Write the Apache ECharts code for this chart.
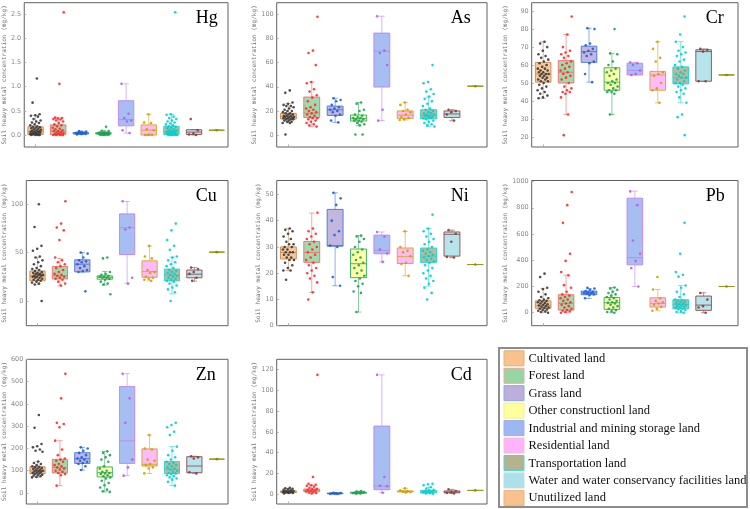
<!DOCTYPE html>
<html><head><meta charset="utf-8">
<script src="https://cdn.jsdelivr.net/npm/echarts@6/dist/echarts.min.js"></script>
<style>html,body{margin:0;padding:0;background:#fff}#c{width:750px;height:509px}</style>
</head><body><div id="c"></div>
<script>
// ---------- categories ----------
const LAND = ['Cultivated land','Forest land','Grass land','Other constructionl land','Industrial and mining storage land','Residential land','Transportation land','Water and water conservancy facilities land','Unutilized land'];
const METALS = ['Hg','As','Cr','Cu','Ni','Pb','Zn','Cd'];

// ---------- box stats [min, Q1, median, Q3, max] and points, per land use ----------
const hgBox = [[0,0.01,0.07,0.17,0.41],[0,0.01,0.08,0.21,0.36],[0.01,0.02,0.04,0.05,0.08],[0,0.02,0.03,0.05,0.09],[0.04,0.19,0.32,0.71,1.06],[0,0,0.1,0.21,0.43],[0,0.01,0.07,0.18,0.43],[0,0.01,0.06,0.11,0.11],[0.1,0.1,0.1,0.1,0.1]];
const hgPts = [
 [1.17,0.67,0.43,0.41,0.40,0.38,0.33,0.30,0.28,0.26,0.25,0.22,0.20,0.18,0.17,0.16,0.15,0.14,0.13,0.12,0.11,0.10,0.09,0.08,0.07,0.07,0.06,0.05,0.05,0.04,0.03,0.03,0.02,0.02,0.01,0.01,0,0,0,0],
 [2.54,1.06,0.36,0.35,0.34,0.33,0.32,0.30,0.28,0.25,0.22,0.20,0.18,0.15,0.13,0.12,0.10,0.08,0.08,0.06,0.05,0.04,0.03,0.02,0.01,0.01,0,0,0,0],
 [0.08,0.07,0.06,0.05,0.05,0.04,0.04,0.03,0.03,0.02,0.02,0.01],
 [0.17,0.09,0.08,0.06,0.05,0.05,0.04,0.04,0.03,0.03,0.03,0.02,0.02,0.02,0.01,0.01,0,0,0,0],
 [1.06,0.44,0.35,0.30,0.28,0.10,0.04],
 [0.43,0.26,0.25,0.12,0.10,0.01,0,0,0],
 [2.54,0.43,0.42,0.38,0.35,0.33,0.30,0.28,0.26,0.24,0.22,0.20,0.18,0.17,0.15,0.14,0.12,0.11,0.10,0.09,0.08,0.07,0.06,0.05,0.05,0.04,0.03,0.02,0.02,0.01,0.01,0,0,0,0,0],
 [0.33,0.10,0.03,0.01,0],
 [0.1]];

const asBox = [[10,13.3,15.5,18,26],[7,14.4,18.2,31.5,44],[10.5,16.3,21,24,30.5],[7.7,11.6,13.8,16.6,27],[12,39.8,69.5,84.5,98.5],[12.5,13.8,16.5,20,27],[7,13.5,16.3,21,31.5],[11.8,14.6,17.5,20,21],[40.5,40.5,40.5,40.5,40.5]];
const asPts = [
 [37,35,27,26,25,24,24,23,22,21,20,20,19,18,18,17,17,16,16,16,15,15,15,14,14,14,13,13,13,12,12,11,11,10,10,0.5],
 [98,70,68,58,44,43,38,36,33,31,28,25,23,22,21,20,19,18,17,16,15,14,14,13,12,11,10,9,8,7],
 [30.5,29,28,25,23,22,21,20,19,17,16,12,10.5],
 [27,26,21,20,17,16,15,14,14,13,13,12,12,11,10,9,8,0.5,0.5],
 [98.5,70,68,58,21,12],
 [27,25,21,20,19,17,15,14,13,12.5],
 [58,44,43,38,36,34,32,30,28,26,24,22,21,20,19,18,18,17,17,16,16,15,15,14,14,13,12,11,10,9,8,7],
 [21,20,19,17,12],
 [40.5]];

const crBox = [[41.5,50.5,55,61.5,73],[32.5,50,56,62.5,77],[50.5,61.5,67.5,70.5,80.5],[32.5,46,50.5,58.5,66.5],[54.5,54.5,57,61,61.5],[39,46,54.5,56.5,73],[39,49.5,53,59,73],[51,51,67.5,68.5,69],[54.5,54.5,54.5,54.5,54.5]];
const crPts = [
 [73,72,70,68,66,65,64,63,62,61,60,59,58,58,57,57,56,56,55,55,55,54,54,53,53,52,52,51,51,50,49,48,47,46,45,44,43,42,41.5],
 [87,77,70,68,67,66,65,64,62,61,60,59,58,57,56,55,54,53,52,50,48,47,46,45,45,44,42,32.5,21],
 [80.5,80,72,71,69,68,67,66,65,62,61,55,50.5],
 [80,66.5,66,62,60,58,57,56,55,54,52,51,50,50,49,48,47,46,46,45,45,44,32.5],
 [61.5,61,60,57,55,54.5],
 [73,69,64,62,56,55,54,50,47,46,39],
 [87,77,73,70,68,67,66,65,63,62,60,59,58,57,56,55,55,54,53,53,52,51,50,50,49,48,47,46,45,44,42,39,32.5,31,21],
 [69,68.5,67.5,51,51],
 [54.5]];

const cuBox = [[17,21,26,31,45],[15.6,22.8,26,35.6,44],[30,30.1,38,42.6,50],[16.5,22.5,24.5,26,30.5],[18.3,48,75.8,90,102.8],[20.8,24.5,30.4,41.5,56.7],[7.3,20.8,26.6,33,45.3],[20.5,24,27.7,32,34.5],[50.5,50.5,50.5,50.5,50.5]];
const cuPts = [
 [100,76.5,57,54,52,46,45,42,40,38,36,34,33,32,31,30,29,29,28,28,27,27,26,26,25,25,24,24,23,22,22,21,20,19,18,17,0],
 [103,80,76,73,63,45,42,40,38,36,34,32,30,28,27,26,25,24,23,22,20,18,16],
 [50,49,45,42,41,40,38,36,34,32,31,30,10],
 [45,44,30,28,27,26,25,25,24,24,23,22,20,18,17,7],
 [103,76,74,24,18],
 [57,46,44,32,30,29,25,24,23,22,21],
 [80,73,63,57,53,46,45,42,40,38,36,34,32,31,30,29,28,27,26,25,24,23,22,21,20,18,16,14,12,9,0],
 [34.5,33,30,28,24,21],
 [50.5]];

const niBox = [[21,25.4,27.9,30,37],[12.7,24.1,27.9,32.1,42.9],[15.2,30.3,30.5,44.3,50.6],[5.2,18.3,23.6,29.2,34.3],[24.3,27.4,28.7,34.5,35.7],[19,23.7,26.3,29.6,35.9],[15.1,24.1,26.5,29.6,37],[25.9,26.5,34.8,35.7,36.4],[23.3,23.3,23.3,23.3,23.3]];
const niPts = [
 [37,36.5,36,35,34,33,32,31,31,30,30,29,29,28,28,28,27,27,26,26,25,25,24,23,22,21,21,17.5],
 [43,37,36,35,34,33,32,31,30,29,28,27,26,25,24,23,22,21,20,19,18,16.5,12.7,10],
 [50.6,48.5,46,40,36,34.5,30.5,30,18.5,15.2],
 [34.3,34,33,32,30,29,28,27,26,25,24,23,22,21,20,19,18,17,16,15,13,12.5,5.2],
 [35.7,34,29,27.5,24.3],
 [36,30,28.5,28,26.5,24,23.5,19],
 [42.3,37,36,35,34,33,32,31,30,29,28.5,28,27.5,27,26.5,26,25.5,25,24.5,24,23,22,21,20,19,18,17,16,14.5,12.5,10],
 [36.4,35,32,26.2,26],
 [23.3]];

const pbBox = [[0,33,53,91,182],[0,20,71,137,286],[109,137,152,165,185],[0,25,76,116,192],[200,365,420,873,927],[15,43,71,114,177],[0,30,63,99,208],[0,18,58,127,152],[200,200,200,200,200]];
const pbPts = [
 [298,272,190,180,160,140,120,110,100,95,90,85,80,75,70,65,60,55,50,45,40,35,30,25,20,15,10,5,0],
 [920,820,685,450,395,310,285,210,190,160,140,130,120,110,100,90,80,70,60,50,40,30,20,15,10,5,0],
 [190,185,175,165,160,155,150,148,145,140,135,110],
 [192,185,175,160,150,140,130,120,110,100,90,80,75,70,60,50,40,30,20,10,5,0],
 [925,820,550,450,395,340,200],
 [272,177,110,90,80,70,60,45,30,15],
 [685,450,310,290,275,208,190,160,140,120,100,95,90,85,80,75,70,65,60,55,50,45,40,35,30,25,20,10,5,0],
 [150,100,50,40,0],
 [200]];

const znBox = [[70,87,99,118,141],[33,90,114,151,235],[103,133,154,181,205],[5,72,91,117,187],[78,133,234,478,536],[88,121,129,198,260],[33,87,106,141,208],[88,91,121,163,165],[152,152,152,152,152]];
const znPts = [
 [350,293,220,210,205,195,190,185,141,135,130,125,120,118,115,112,110,108,105,102,100,98,96,95,92,90,88,85,82,80,78,75,72,70],
 [535,425,315,310,295,235,195,170,155,150,145,140,130,125,120,115,110,105,100,95,90,85,80,33],
 [205,200,190,180,170,160,155,150,145,140,135,130,120,103],
 [187,180,170,160,150,140,120,110,100,95,90,88,85,80,75,70,65,55,45,35,25,15,8,5],
 [535,425,315,150,115,78],
 [260,200,195,150,145,130,125,115,110,88],
 [315,305,295,275,260,208,190,170,160,150,140,135,130,125,120,115,110,105,100,95,90,88,85,80,75,70,65,60,50,33],
 [165,160,155,93,88],
 [152]];

const cdBox = [[0.5,1.5,2.2,3,5.5],[0.5,2.2,3.8,4.8,8.5],[0.1,0.3,0.6,0.9,1.2],[0.3,0.8,1.2,1.8,2.8],[1.3,4.2,7.7,65.6,115],[1.5,2,2.5,3,5.5],[0.3,1.2,2.2,3.5,6.5],[0.5,1.2,2,3,4.5],[3.5,3.5,3.5,3.5,3.5]];
const cdPts = [
 [6,5.5,5,4.5,4,3.5,3,3,2.5,2.5,2,2,2,1.5,1.5,1,1,0.5],
 [115,16.4,10,9,8.5,8,7,6,5,4.5,4,3.5,3,2.5,2,1.5,1,0.5],
 [1.2,1,0.8,0.6,0.5,0.3,0.2,0.1],
 [2.8,2.5,2,1.8,1.5,1.2,1,0.8,0.5,0.3],
 [115,16.5,8,7.5,1.3],
 [5.5,3.5,3,2.5,2,1.5],
 [10,9.5,8.5,6.5,5,4,3.5,3,2.5,2,1.5,1,0.5,0.3],
 [4.5,3,2,1,0.5],
 [3.5]];

// ---------- axis tick labels ----------
const hgTicks = [0,0.5,1,1.5,2,2.5];
const asTicks = [0,20,40,60,80,100];
const crTicks = [20,30,40,50,60,70,80,90];
const cuTicks = [0,50,100];
const niTicks = [0,10,20,30,40,50];
const pbTicks = [0,200,400,600,800,1000];
const znTicks = [0,100,200,300,400,500,600];
const cdTicks = [0,20,40,60,80,100,120];

const PANELS = [
 {name:'Hg', box:hgBox, pts:hgPts, ticks:hgTicks, min:-0.248, max:2.74, dec:1},
 {name:'As', box:asBox, pts:asPts, ticks:asTicks, min:-9.9, max:109.7, dec:0},
 {name:'Cr', box:crBox, pts:crPts, ticks:crTicks, min:14.4, max:94.7, dec:0},
 {name:'Cu', box:cuBox, pts:cuPts, ticks:cuTicks, min:-25.5, max:124.5, dec:0},
 {name:'Ni', box:niBox, pts:niPts, ticks:niTicks, min:0, max:55.3, dec:0},
 {name:'Pb', box:pbBox, pts:pbPts, ticks:pbTicks, min:-99, max:1008, dec:0},
 {name:'Zn', box:znBox, pts:znPts, ticks:znTicks, min:-49.4, max:600.3, dec:0},
 {name:'Cd', box:cdBox, pts:cdPts, ticks:cdTicks, min:-9.6, max:130, dec:0}
];

// ---------- styles ----------
const BOX_FILL = ['#f8c28c','#95d6a3','#bdaedb','#ffff9c','#9db7f2','#ffb3fc','#b4b38f','#ade1ea','#f8c28c'];
const BOX_LINE = ['#c98a55','#f36b6b','#3c78e0','#2fae5e','#c182f0','#d9a51c','#1fd3d6','#8e4b4b','#9a9a1a'];
const PT_COLOR = ['#3a3a3a','#ff2b2b','#1f5fd8','#1fa352','#b35ee6','#cfa000','#00cfd2','#8b3d3d','#8a8a00'];
const LEG_LINE = ['#e3b07f','#f2a3a3','#8ea6e8','#f0f08a','#9aaee8','#f2c0c8','#4fd6d6','#bcdde2','#e6b587'];

const COL_LEFT = [21.7, 276.7, 531.7];
const COL_W = [206.3, 210.3, 206.3];
const ROW_TOP = [2.7, 180.5, 359.3];
const ROW_H = [144.3, 145.2, 144.7];
const NAME_GAP = [12.7, 14.4, 23.7];

function jitter(k, j) {
  const f = ((j + 1) * 0.6180339887 + k * 0.37) % 1;
  return (f - 0.5) * 0.5;
}

function renderBox(params, api) {
  const k = api.value(0);
  const mn = api.coord([k, api.value(1)]);
  const q1 = api.coord([k, api.value(2)]);
  const md = api.coord([k, api.value(3)]);
  const q3 = api.coord([k, api.value(4)]);
  const mx = api.coord([k, api.value(5)]);
  const band = api.size([1, 0])[0];
  const bw = band * 0.68, cw = band * 0.24;
  const cx = mn[0];
  const line = BOX_LINE[k];
  const ws = {stroke: line, lineWidth: 1, opacity: 0.6};
  return {type: 'group', children: [
    {type: 'line', shape: {x1: cx, y1: q3[1], x2: cx, y2: mx[1]}, style: ws},
    {type: 'line', shape: {x1: cx - cw / 2, y1: mx[1], x2: cx + cw / 2, y2: mx[1]}, style: ws},
    {type: 'line', shape: {x1: cx, y1: q1[1], x2: cx, y2: mn[1]}, style: ws},
    {type: 'line', shape: {x1: cx - cw / 2, y1: mn[1], x2: cx + cw / 2, y2: mn[1]}, style: ws},
    {type: 'rect', shape: {x: cx - bw / 2, y: q3[1], width: bw, height: Math.max(q1[1] - q3[1], 0.01)},
      style: {fill: BOX_FILL[k], stroke: line, lineWidth: 1, opacity: 0.9}},
    {type: 'line', shape: {x1: cx - bw / 2, y1: md[1], x2: cx + bw / 2, y2: md[1]}, style: {stroke: line, lineWidth: 1, opacity: 0.85}}
  ]};
}

const option = {animation: false, backgroundColor: '#fff', grid: [], xAxis: [], yAxis: [], series: [], graphic: []};

PANELS.forEach((p, i) => {
  const col = i % 3, row = Math.floor(i / 3);
  option.grid.push({left: COL_LEFT[col], top: ROW_TOP[row], width: COL_W[col], height: ROW_H[row],
    show: true, borderColor: '#606060', borderWidth: 1, backgroundColor: 'transparent'});
  option.xAxis.push({type: 'category', gridIndex: i, data: LAND, boundaryGap: true, position: 'bottom',
    axisLine: {show: false, onZero: false}, axisLabel: {show: false}, splitLine: {show: false},
    axisTick: {show: true, alignWithLabel: true, inside: true, length: 2.5, lineStyle: {color: '#aaa'}}});
  option.xAxis.push({type: 'value', gridIndex: i, min: -0.5, max: 8.5, show: false,
    axisLine: {onZero: false}});
  option.yAxis.push({type: 'value', gridIndex: i, min: p.min, max: p.max, position: 'left',
    axisLine: {show: false, onZero: false}, splitLine: {show: false},
    axisTick: {show: true, inside: true, length: 2, customValues: p.ticks, lineStyle: {color: '#aaa'}},
    axisLabel: {customValues: p.ticks, fontSize: 6.5, color: '#8a8a8a', margin: 3,
      fontFamily: 'DejaVu Sans', formatter: v => v.toFixed(p.dec)},
    name: 'Soil heavy metal concentration (mg/kg)', nameLocation: 'middle', nameGap: NAME_GAP[col],
    nameTextStyle: {fontFamily: 'DejaVu Sans Mono', fontSize: 6.1, color: '#777'}});
  option.series.push({type: 'custom', xAxisIndex: 2 * i, yAxisIndex: i, renderItem: renderBox, silent: true,
    encode: {x: 0, y: [1, 2, 3, 4, 5]}, data: p.box.map((b, k) => [k].concat(b)), z: 2});
  const pts = [];
  p.pts.forEach((arr, k) => arr.forEach((v, j) => pts.push([k + (k === 8 ? 0 : jitter(k, j)), v, k])));
  option.series.push({type: 'scatter', xAxisIndex: 2 * i + 1, yAxisIndex: i, data: pts, symbolSize: 2.6, silent: true,
    itemStyle: {color: pr => PT_COLOR[pr.data[2]], opacity: 0.9}, z: 3});
  option.graphic.push({type: 'text', left: COL_LEFT[col] + 174, top: ROW_TOP[row] + 7, z: 10,
    style: {text: p.name, font: '18px "Liberation Serif"', fill: '#000'}});
});

// legend box
const LG = {x: 499, y: 348, w: 248, h: 159};
option.graphic.push({type: 'rect', shape: {x: LG.x, y: LG.y, width: LG.w, height: LG.h},
  style: {fill: '#fff', stroke: '#8c8c8c', lineWidth: 2}, z: 5});
LAND.forEach((name, k) => {
  const y = 350.8 + k * 17.45;
  option.graphic.push({type: 'rect', shape: {x: 504, y: y, width: 20, height: 15},
    style: {fill: BOX_FILL[k], stroke: LEG_LINE[k], lineWidth: 1}, z: 6});
  option.graphic.push({type: 'text', x: 528.5, y: y + 7.8, z: 6,
    style: {text: name, font: '12.5px "Liberation Serif"', fill: '#111', textVerticalAlign: 'middle'}});
});

const chart = echarts.init(document.getElementById('c'), null, {renderer: 'canvas'});
chart.setOption(option);
</script></body></html>
